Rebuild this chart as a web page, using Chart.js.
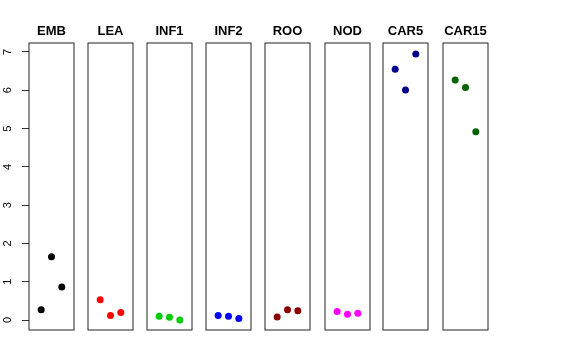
<!DOCTYPE html>
<html>
<head>
<meta charset="utf-8">
<script src="https://cdn.jsdelivr.net/npm/chart.js@4"></script>
<style>
  html, body { margin: 0; padding: 0; background: #fff; }
  #wrap { position: relative; width: 576px; height: 360px; overflow: hidden; }
  .pc { position: absolute; top: 0; height: 360px; }
</style>
</head>
<body>
<div id="wrap"></div>
<script>
// ---- data ----
const categories = ['EMB', 'LEA', 'INF1', 'INF2', 'ROO', 'NOD', 'CAR5', 'CAR15'];
const replicate = [1, 2, 3];
const EMB   = [0.27, 1.65, 0.86];
const LEA   = [0.53, 0.12, 0.20];
const INF1  = [0.10, 0.07, 0.00];
const INF2  = [0.12, 0.10, 0.04];
const ROO   = [0.08, 0.27, 0.24];
const NOD   = [0.22, 0.15, 0.18];
const CAR5  = [6.55, 6.01, 6.95];
const CAR15 = [6.27, 6.07, 4.92];
const yTickLabels = ['0', '1', '2', '3', '4', '5', '6', '7'];

const seriesValues = [EMB, LEA, INF1, INF2, ROO, NOD, CAR5, CAR15];
const colors = ['#000000', '#FF0000', '#00CD00', '#0000FF', '#8B0000', '#FF00FF', '#00008B', '#006400'];

// ---- layout ----
const panelLefts = [29, 88, 147, 206, 265, 325, 383, 443];
const panelWidth = 45;
const axisWidth = 29;
const pad = 2;

const boxPlugin = {
  id: 'panelBox',
  afterDraw(chart) {
    const a = chart.chartArea, ctx = chart.ctx;
    ctx.save();
    ctx.strokeStyle = '#222';
    ctx.lineWidth = 1;
    ctx.strokeRect(a.left, a.top, a.right - a.left, a.bottom - a.top);
    ctx.restore();
  }
};

const wrap = document.getElementById('wrap');
categories.forEach((cat, i) => {
  const first = i === 0;
  const cw = (first ? axisWidth : pad) + panelWidth + pad;
  const left = first ? 0 : panelLefts[i] - pad;
  const div = document.createElement('div');
  div.className = 'pc';
  div.style.left = left + 'px';
  div.style.width = cw + 'px';
  const canvas = document.createElement('canvas');
  canvas.width = cw; canvas.height = 360;
  canvas.style.width = cw + 'px'; canvas.style.height = '360px';
  div.appendChild(canvas);
  wrap.appendChild(div);

  new Chart(canvas, {
    type: 'scatter',
    data: {
      datasets: [{
        data: replicate.map((r, k) => ({ x: r, y: seriesValues[i][k] })),
        backgroundColor: colors[i],
        borderColor: colors[i],
        borderWidth: 0,
        pointRadius: 3.5,
        pointHoverRadius: 3.5
      }]
    },
    options: {
      responsive: false,
      animation: false,
      events: [],
      layout: { autoPadding: false, padding: { left: first ? 0 : pad, right: pad, top: 0, bottom: 30 } },
      plugins: {
        legend: { display: false },
        tooltip: { enabled: false },
        title: {
          display: true,
          text: cat,
          fullSize: false,
          color: '#000',
          font: { family: '"Liberation Sans", Arial, sans-serif', size: 13, weight: 'bold', lineHeight: 1.2 },
          padding: { top: 23.5, bottom: 3.9 }
        }
      },
      scales: {
        x: { type: 'linear', min: -0.18, max: 4.18, display: false },
        y: {
          type: 'linear',
          min: -0.26, max: 7.235,
          display: first,
          afterBuildTicks: (s) => { s.ticks = yTickLabels.map(v => ({ value: Number(v) })); },
          afterFit: (s) => { s.width = first ? axisWidth : 0; },
          border: { display: false },
          grid: { display: true, drawOnChartArea: false, drawTicks: true, tickLength: 7, color: '#333', lineWidth: 1 },
          ticks: {
            minRotation: 90, maxRotation: 90,
            crossAlign: 'center',
            padding: 11,
            color: '#000',
            font: { family: '"Liberation Sans", Arial, sans-serif', size: 11 },
            callback: (v) => String(v)
          }
        }
      }
    },
    plugins: [boxPlugin]
  });
});
</script>
</body>
</html>
